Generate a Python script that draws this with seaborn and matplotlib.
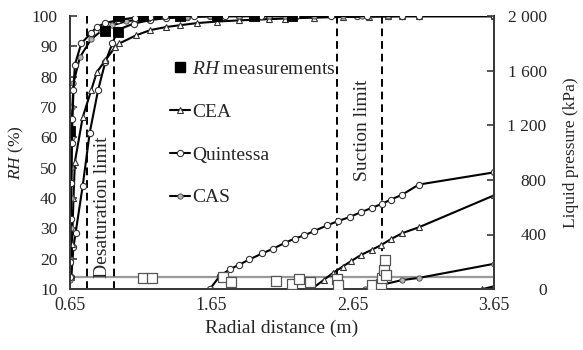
import numpy as np
import pandas as pd
import matplotlib
matplotlib.use("Agg")
import matplotlib.pyplot as plt
import seaborn as sns
from matplotlib.lines import Line2D

# ---------------- data ----------------
# RH measurements (filled squares, left axis)
rh_meas_x = [0.65, 0.90, 0.99, 1.00, 1.17, 1.43, 1.69, 1.95, 2.22]
rh_meas_y = [62, 95, 94.7, 100, 100, 100, 100, 100, 100]

# Liquid pressure measurements (open squares, right axis)
p_meas_x = [1.17, 1.23, 1.73, 1.79, 2.11, 2.22, 2.27, 2.35, 2.54, 2.55, 2.79, 2.85, 2.86, 2.87, 2.88, 2.89]
p_meas_y = [80, 80, 88, 50, 58, 36, 72, 50, 75, 30, 30, 40, 80, 140, 210, 100]

# RH curves (left axis)
q_rh1_x = [0.65, 0.652, 0.655, 0.66, 0.663, 0.667, 0.675, 0.685, 0.73, 0.80, 0.84, 0.90, 0.99, 1.11, 1.22, 1.32, 1.53,
           1.75, 2.0, 2.25, 2.5, 2.75, 3.0, 3.12, 3.65]
q_rh1_y = [14, 19, 33, 45, 58, 66, 75.5, 84, 91, 94.4, 96.4, 97.7, 98.7, 99.5, 99.8, 100, 100,
           100, 100, 100, 100, 100, 100, 100, 100]

q_rh2_x = [0.66, 0.675, 0.69, 0.74, 0.79, 0.85, 0.90, 0.95, 0.99, 1.10, 1.22, 1.33, 1.48, 1.64, 1.85, 2.06, 2.38,
           2.68, 2.90, 3.00, 3.12, 3.65]
q_rh2_y = [14, 24, 28.5, 44, 61.6, 75.8, 84.8, 91, 95.5, 97.5, 98.7, 99.3, 99.7, 99.9, 100, 100, 100,
           100, 100, 100, 100, 100]

cea_rh_x = [0.655, 0.665, 0.675, 0.685, 0.74, 0.80, 0.84, 0.90, 0.97, 1.00, 1.12, 1.22, 1.33, 1.43, 1.55, 1.69,
            1.85, 2.06, 2.17, 2.38, 2.58, 2.77, 2.90, 3.00, 3.12, 3.65]
cea_rh_y = [14, 25, 40, 52, 66.6, 75.5, 81.5, 85.4, 89.8, 91, 93.7, 95.4, 96.4, 97, 97.7, 98.2,
            98.6, 99, 99.2, 99.5, 99.7, 99.8, 99.9, 100, 100, 100]

cas_rh_x = [0.65, 0.652, 0.655, 0.658, 0.66, 0.663, 0.667, 0.675, 0.72, 0.80, 0.87, 0.95, 1.05, 1.20, 1.48, 1.64,
            1.85, 2.06, 2.17, 2.38, 2.58, 2.72, 2.77, 2.90, 3.00, 3.12, 3.65]
cas_rh_y = [13, 20, 30, 40, 50, 60, 70, 78, 86.4, 92.4, 95, 97, 98.3, 99.2, 99.8, 100,
            100, 100, 100, 100, 100, 100, 100, 100, 100, 100, 100]

# Liquid pressure curves (right axis)
q_p_x = [1.64, 1.71, 1.78, 1.85, 1.92, 2.01, 2.09, 2.17, 2.24, 2.31, 2.38, 2.47, 2.55, 2.63, 2.71, 2.79, 2.86, 2.92,
         3.00, 3.12, 3.65]
q_p_y = [0, 95, 144, 180, 217, 261, 297, 338, 370, 394, 426, 467, 499, 528, 564, 596, 626, 655,
         691, 766, 855]

cea_p_x = [2.36, 2.45, 2.51, 2.58, 2.64, 2.71, 2.79, 2.85, 2.92, 3.00, 3.12, 3.65]
cea_p_y = [0, 70, 117, 165, 205, 250, 290, 321, 365, 409, 453, 686]

cas_p_x = [2.74, 2.85, 3.00, 3.12, 3.65]
cas_p_y = [0, 30, 66, 82, 185]

cea_p2_x = [3.57, 3.65]
cea_p2_y = [0, 20]

limit_x = [0.77, 0.96, 2.54, 2.86]
ref_rh = 14

xticks = [0.65, 1.65, 2.65, 3.65]
rh_ticks = [10, 20, 30, 40, 50, 60, 70, 80, 90, 100]
p_ticks = [0, 400, 800, 1200, 1600, 2000]
p_tick_labels = ["0", "400", "800", "1 200", "1 600", "2 000"]

# ---------------- style ----------------
sns.set_theme(style="white")
plt.rcParams["font.family"] = ["Liberation Serif", "DejaVu Serif"]
plt.rcParams["mathtext.fontset"] = "custom"
plt.rcParams["mathtext.rm"] = "Liberation Serif"
plt.rcParams["mathtext.it"] = "Liberation Serif:italic"

FS_TICK = 12.5
FS_BIG = 14
spine_c = "#3a3a3a"

fig = plt.figure(figsize=(5.83, 3.5), dpi=100)
ax = fig.add_axes([0.120, 0.174, 0.727, 0.780])
ax2 = ax.twinx()

ax.set_xlim(0.65, 3.65)
ax.set_ylim(10, 100)
ax2.set_ylim(0, 2000)

# reference line
ax.axhline(ref_rh, color="#9a9a9a", lw=1.6, zorder=1)

# limits
for xv in limit_x:
    ax.axvline(xv, color="black", lw=1.4, ls=(0, (4, 2.5)), zorder=2)

line_kw = dict(color="black", lw=1.5, sort=False, estimator=None)
white_o = dict(marker="o", markersize=4.5, markerfacecolor="white", markeredgecolor="#333333", markeredgewidth=0.8)
white_t = dict(marker="^", markersize=4.5, markerfacecolor="white", markeredgecolor="#333333", markeredgewidth=0.8)
gray_o = dict(marker="o", markersize=3.8, markerfacecolor="#b5b5b5", markeredgecolor="#555555", markeredgewidth=0.7)

sns.lineplot(x=q_rh2_x, y=q_rh2_y, ax=ax, **line_kw, **white_o)
sns.lineplot(x=cea_rh_x, y=cea_rh_y, ax=ax, **line_kw, **white_t)
sns.lineplot(x=cas_rh_x, y=cas_rh_y, ax=ax, **line_kw, **gray_o)
sns.lineplot(x=q_rh1_x, y=q_rh1_y, ax=ax, **line_kw, **white_o)

sns.scatterplot(x=rh_meas_x, y=rh_meas_y, ax=ax, marker="s", s=55, color="black", edgecolor="black", zorder=5)

sns.lineplot(x=q_p_x, y=q_p_y, ax=ax2, **line_kw, **white_o)
sns.lineplot(x=cea_p_x, y=cea_p_y, ax=ax2, **line_kw, **white_t)
sns.lineplot(x=cas_p_x, y=cas_p_y, ax=ax2, **line_kw, **gray_o)
sns.lineplot(x=cea_p2_x, y=cea_p2_y, ax=ax2, **line_kw, **white_t)
sns.scatterplot(x=p_meas_x, y=p_meas_y, ax=ax2, marker="s", s=45, color="white",
                edgecolor="#555555", linewidth=0.9, zorder=5)

# text annotations
ax.text(0.88, 37, "Desaturation limit", rotation=90, ha="center", va="center", fontsize=FS_BIG)
ax.text(2.72, 62.5, "Suction limit", rotation=90, ha="center", va="center", fontsize=FS_BIG)

# legend
handles = [
    Line2D([], [], ls="none", marker="s", markersize=7, color="black"),
    Line2D([], [], color="black", lw=1.5, **white_t),
    Line2D([], [], color="black", lw=1.5, **white_o),
    Line2D([], [], color="black", lw=1.5, **gray_o),
]
labels = [r"$\mathit{RH}$ measurements", "CEA", "Quintessa", "CAS"]
ax2.legend(handles, labels, loc="upper left", bbox_to_anchor=(0.214, 0.874), frameon=False,
           fontsize=FS_BIG, handlelength=1.0, handletextpad=0.1, labelspacing=1.3, borderpad=0)

# axes formatting
ax.set_xticks(xticks)
ax.set_xticklabels([f"{v:.2f}" for v in xticks])
ax.set_yticks(rh_ticks)
ax2.set_yticks(p_ticks)
ax2.set_yticklabels(p_tick_labels)

ax.tick_params(axis="y", direction="in", length=5, width=1.2, color=spine_c, labelsize=FS_TICK, pad=9, left=True)
ax.tick_params(axis="x", length=0, labelsize=13, pad=6)
ax2.tick_params(axis="y", direction="in", length=5, width=1.2, color=spine_c, labelsize=FS_TICK, pad=38, right=True)
for lab in ax2.get_yticklabels():
    lab.set_horizontalalignment("right")

for a in (ax, ax2):
    a.spines["top"].set_visible(False)
    for s in ("left", "right", "bottom"):
        a.spines[s].set_color(spine_c)
        a.spines[s].set_linewidth(1.4)
    a.grid(False)
    a.set_facecolor("none")

ax.set_xlabel("Radial distance (m)", fontsize=FS_BIG, labelpad=4)
ax.set_ylabel(r"$\mathit{RH}$ (%)", fontsize=FS_TICK, labelpad=4)
ax2.set_ylabel("Liquid pressure (kPa)", fontsize=FS_TICK, labelpad=12)

fig.savefig("out.png", dpi=100)
